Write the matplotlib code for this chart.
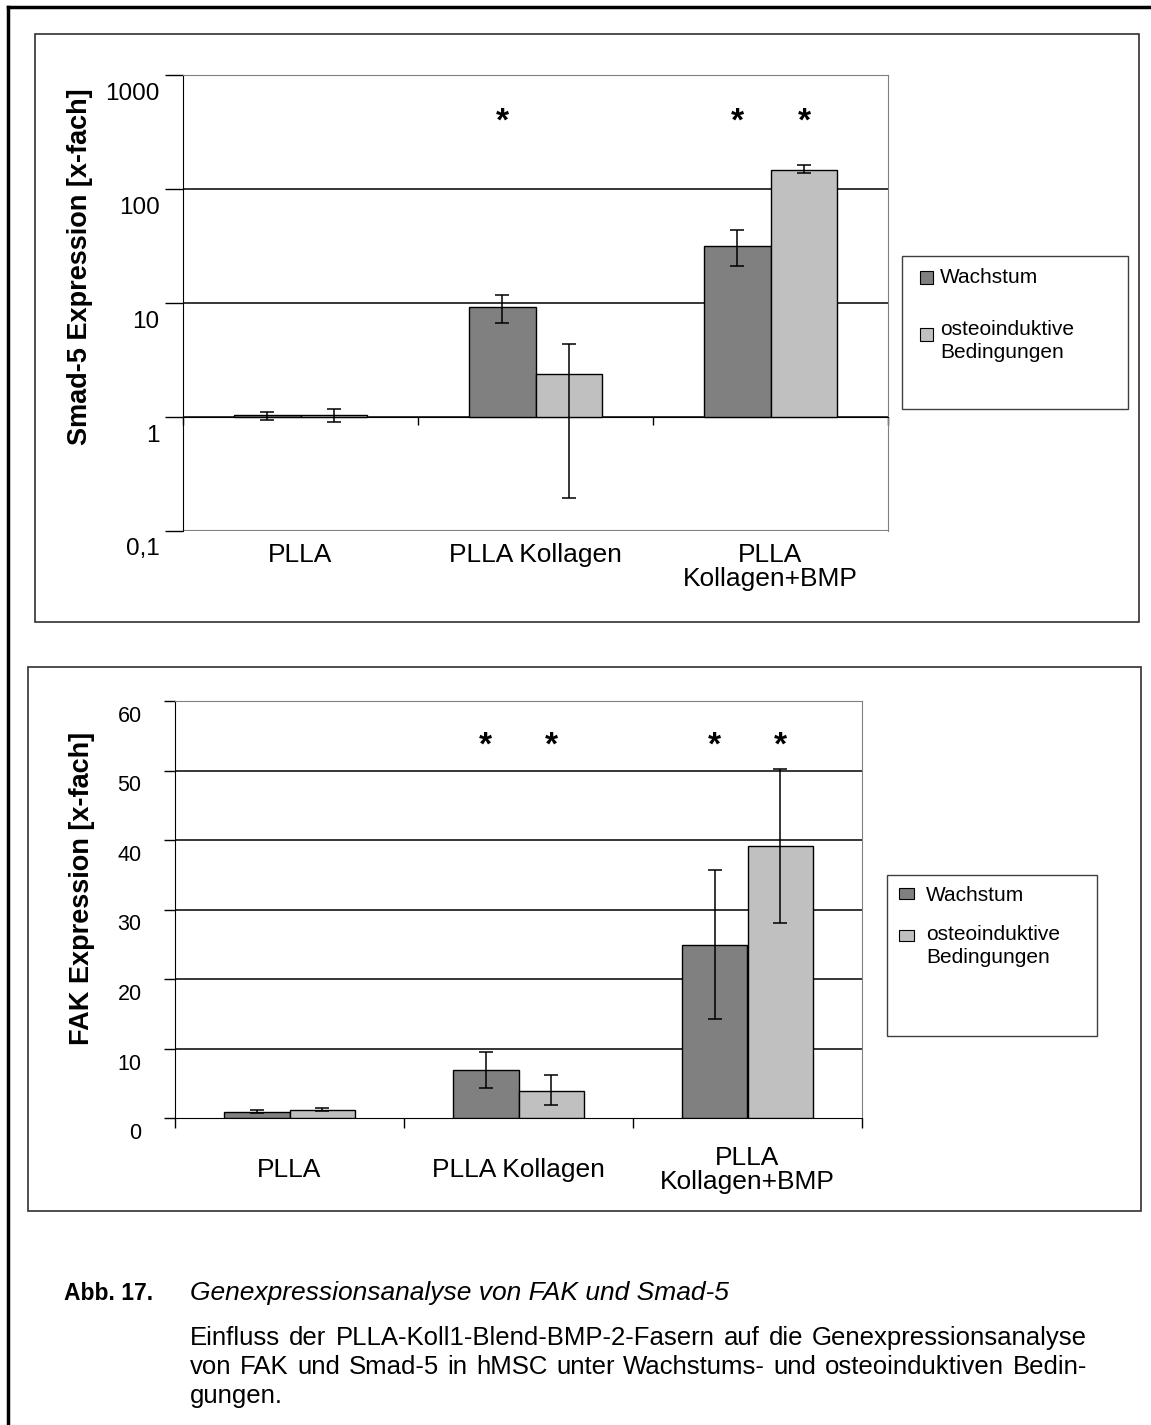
import matplotlib
matplotlib.use("Agg")
import matplotlib.pyplot as plt
import matplotlib.transforms as mtransforms
from matplotlib.patches import Rectangle
from matplotlib.lines import Line2D
import numpy as np

plt.rcParams['font.family'] = ['Liberation Sans', 'DejaVu Sans']

# data
groups = ['PLLA', 'PLLA Kollagen', 'PLLA\nKollagen+BMP']
series = ['Wachstum', 'osteoinduktive\nBedingungen']
colors = ['#808080', '#c0c0c0']

smad_wachstum = [1.04, 9.2, 31.5]
smad_wachstum_lo = [0.95, 6.7, 21.0]
smad_wachstum_hi = [1.10, 11.8, 43.5]
smad_osteo = [1.04, 2.4, 146.0]
smad_osteo_lo = [0.90, 0.195, 137.0]
smad_osteo_hi = [1.17, 4.4, 163.0]
smad_stars = [[False, False], [True, False], [True, True]]
smad_ticks = [0.1, 1, 10, 100, 1000]
smad_ticklabels = ['0,1', '1', '10', '100', '1000']

fak_wachstum = [0.9, 6.9, 24.9]
fak_wachstum_lo = [0.7, 4.3, 14.2]
fak_wachstum_hi = [1.1, 9.5, 35.7]
fak_osteo = [1.2, 3.9, 39.1]
fak_osteo_lo = [1.0, 1.9, 28.0]
fak_osteo_hi = [1.4, 6.2, 50.2]
fak_stars = [[False, False], [True, True], [True, True]]
fak_ticks = [0, 10, 20, 30, 40, 50, 60]

W, H = 1151, 1425
fig = plt.figure(figsize=(W / 100, H / 100), dpi=100)


def fx(x):
    return x / W


def fy(y):
    return 1 - y / H


def box(x0, y0, x1, y1, lw=1.2, color='#303030'):
    fig.patches.append(Rectangle((fx(x0), fy(y1)), fx(x1 - x0), (y1 - y0) / H,
                                 transform=fig.transFigure, fill=False,
                                 lw=lw, ec=color))


# outer page frame (left + top)
fig.add_artist(Line2D([fx(8), fx(8)], [fy(7), 0], transform=fig.transFigure, lw=2.5, color='black'))
fig.add_artist(Line2D([fx(8), 1], [fy(7), fy(7)], transform=fig.transFigure, lw=2.5, color='black'))

box(35, 34, 1139, 622)
box(28, 667, 1141, 1211)

bw = 0.285
x = np.arange(len(groups))


def draw(ax, vals1, lo1, hi1, vals2, lo2, hi2, base):
    for vals, lo, hi, c, off in [(vals1, lo1, hi1, colors[0], -bw / 2),
                                 (vals2, lo2, hi2, colors[1], bw / 2)]:
        vals = np.array(vals)
        err = [vals - np.array(lo), np.array(hi) - vals]
        ax.bar(x + off, vals - base, width=bw, bottom=base, color=c,
               edgecolor='black', lw=1, zorder=3)
        ax.errorbar(x + off, vals, yerr=err, fmt='none', ecolor='black',
                    elinewidth=1.1, capsize=5, capthick=1.1, zorder=4)


def legend(x0, y0, x1, y1, sq, rows, fs):
    box(x0, y0, x1, y1, lw=1.0, color='#404040')
    for (sx, sy, sw, sh, c), (tx, ty, t) in zip(sq, rows):
        fig.patches.append(Rectangle((fx(sx), fy(sy + sh)), sw / W, sh / H,
                                     transform=fig.transFigure, fc=c, ec='black', lw=0.8))
        fig.text(fx(tx), fy(ty), t, fontsize=fs, ha='left', va='top', linespacing=1.25)


# ---- top chart: Smad-5 (log)
ax1 = fig.add_axes([fx(183), fy(531), (888 - 183) / W, (531 - 75) / H])
ax1.set_yscale('log')
ax1.set_ylim(0.1, 1000)
ax1.set_xlim(-0.5, 2.5)
draw(ax1, smad_wachstum, smad_wachstum_lo, smad_wachstum_hi,
     smad_osteo, smad_osteo_lo, smad_osteo_hi, 1)
for v in [1, 10, 100]:
    ax1.axhline(v, color='black', lw=1.1, zorder=1)
ax1.set_yticks(smad_ticks)
ax1.set_yticklabels(smad_ticklabels)
ax1.yaxis.set_minor_locator(matplotlib.ticker.NullLocator())
ax1.tick_params(axis='y', length=13, width=1, pad=4, labelsize=17.5, direction='out')
ax1.spines['bottom'].set_position(('data', 1))
ax1.set_xticks([-0.5, 0.5, 1.5, 2.5])
ax1.set_xticklabels([])
ax1.tick_params(axis='x', length=6, width=1, direction='out')
ax1.axhline(0.1, color='#808080', lw=1.5, zorder=1)
for s in ['top', 'right']:
    ax1.spines[s].set_color('#808080')
ax1.spines['left'].set_color('black')
ax1.set_ylabel('Smad-5 Expression [x-fach]', fontsize=19.5, fontweight='bold')
ax1.yaxis.set_label_coords(-0.128, 0.58)
off1 = mtransforms.ScaledTranslation(0, -0.16, fig.dpi_scale_trans)
for lab in ax1.get_yticklabels():
    lab.set_transform(lab.get_transform() + off1)
for i, g in enumerate(groups):
    ax1.text(i, -0.026, g, transform=ax1.get_xaxis_transform(), ha='center',
             va='top', fontsize=19, linespacing=1.0)
for i in range(len(groups)):
    for j, st in enumerate(smad_stars[i]):
        if st:
            ax1.text(i + (j - 0.5) * bw, 390, '*', ha='center', va='center',
                     fontsize=24, fontweight='bold')

legend(902, 256, 1128, 409,
       [(920, 271, 13, 13, colors[0]), (920, 328, 13, 13, colors[1])],
       [(940, 268, series[0]), (940, 320, series[1])], 15)

# ---- bottom chart: FAK (linear)
ax2 = fig.add_axes([fx(175), fy(1118), (862 - 175) / W, (1118 - 701) / H])
ax2.set_ylim(0, 60)
ax2.set_xlim(-0.5, 2.5)
draw(ax2, fak_wachstum, fak_wachstum_lo, fak_wachstum_hi,
     fak_osteo, fak_osteo_lo, fak_osteo_hi, 0)
for v in fak_ticks[1:]:
    ax2.axhline(v, color='black', lw=1.1, zorder=1)
ax2.set_yticks(fak_ticks)
ax2.tick_params(axis='y', length=8, width=1, pad=16, labelsize=15.5, direction='out')
ax2.set_xticks([-0.5, 0.5, 1.5, 2.5])
ax2.set_xticklabels([])
ax2.tick_params(axis='x', length=7, width=1, direction='out')
for s in ['top', 'right']:
    ax2.spines[s].set_color('#808080')
ax2.set_ylabel('FAK Expression [x-fach]', fontsize=19.5, fontweight='bold')
ax2.yaxis.set_label_coords(-0.116, 0.55)
off2 = mtransforms.ScaledTranslation(0, -0.13, fig.dpi_scale_trans)
for lab in ax2.get_yticklabels():
    lab.set_transform(lab.get_transform() + off2)
for i, g in enumerate(groups):
    ax2.text(i, -0.125, g, transform=ax2.get_xaxis_transform(), ha='center',
             va='center', fontsize=19, linespacing=1.0)
for i in range(len(groups)):
    for j, st in enumerate(fak_stars[i]):
        if st:
            ax2.text(i + (j - 0.5) * bw, 53.5, '*', ha='center', va='center',
                     fontsize=24, fontweight='bold')

legend(887, 875, 1097, 1036,
       [(899, 888, 15, 11, colors[0]), (899, 930, 15, 11, colors[1])],
       [(926, 886, series[0]), (926, 925, series[1])], 15)

# ---- caption
fig.text(fx(64), fy(1293), 'Abb. 17.', fontsize=16.5, fontweight='bold', va='center')
fig.text(fx(190), fy(1293), 'Genexpressionsanalyse von FAK und Smad-5', fontsize=19,
         style='italic', va='center')

renderer = fig.canvas.get_renderer()


def justified(line, y, x0, x1, fs, justify=True):
    words = line.split(' ')
    texts = [fig.text(0, fy(y), w, fontsize=fs, va='center') for w in words]
    widths = [t.get_window_extent(renderer).width for t in texts]
    if justify and len(words) > 1:
        gap = (x1 - x0 - sum(widths)) / (len(words) - 1)
    else:
        gap = 5
    pos = x0
    for t, w in zip(texts, widths):
        t.set_x(fx(pos))
        pos += w + gap


body = ['Einfluss der PLLA-Koll1-Blend-BMP-2-Fasern auf die Genexpressionsanalyse',
        'von FAK und Smad-5 in hMSC unter Wachstums- und osteoinduktiven Bedin-',
        'gungen.']
justified(body[0], 1338, 190, 1087, 18.5)
justified(body[1], 1367, 190, 1087, 18.5)
justified(body[2], 1396, 190, 1087, 18.5, justify=False)

fig.savefig('out.png', dpi=100)
